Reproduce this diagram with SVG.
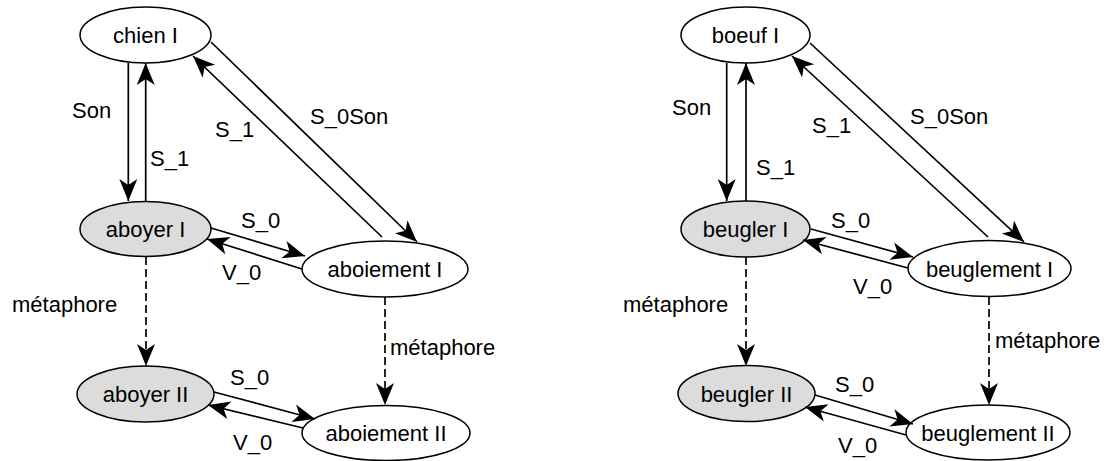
<svg xmlns="http://www.w3.org/2000/svg" width="1110" height="461" viewBox="0 0 1110 461">
<style>
text{font-family:"Liberation Sans",Arial,sans-serif;font-size:22px;fill:#000}
.n text{text-anchor:middle}
ellipse{stroke:#000;stroke-width:1.5;fill:#fff}
.g ellipse{fill:#dcdcdc}
.e path{fill:none;stroke:#000;stroke-width:1.7;marker-end:url(#ah)}
.e path.d{stroke-dasharray:8,4}
</style>
<defs>
<marker id="ah" markerUnits="userSpaceOnUse" markerWidth="24" markerHeight="20" refX="22" refY="10" orient="auto" overflow="visible">
<path d="M22,10 L0,1 L6,10 L0,19 Z" fill="#000" stroke="none"/>
</marker>
</defs>
<g class="n" id="chien1"><ellipse cx="145.5" cy="35" rx="65.5" ry="28"/><text x="145.5" y="43">chien I</text></g>
<g class="n g" id="aboyer1"><ellipse cx="145.5" cy="229" rx="65.5" ry="27.5"/><text x="145.5" y="237">aboyer I</text></g>
<g class="n" id="aboiement1"><ellipse cx="385" cy="269" rx="83" ry="28"/><text x="385" y="277">aboiement I</text></g>
<g class="n g" id="aboyer2"><ellipse cx="145.5" cy="394" rx="68.5" ry="28"/><text x="145.5" y="402">aboyer II</text></g>
<g class="n" id="aboiement2"><ellipse cx="386" cy="433" rx="84" ry="27.5"/><text x="386" y="441">aboiement II</text></g>
<g class="n" id="boeuf1"><ellipse cx="745.5" cy="35" rx="64.5" ry="28"/><text x="745.5" y="43">boeuf I</text></g>
<g class="n g" id="beugler1"><ellipse cx="745.5" cy="229" rx="64.5" ry="28"/><text x="745.5" y="237">beugler I</text></g>
<g class="n" id="beuglement1"><ellipse cx="989.5" cy="268.5" rx="81.5" ry="28"/><text x="989.5" y="276.5">beuglement I</text></g>
<g class="n g" id="beugler2"><ellipse cx="746.5" cy="393.5" rx="68.5" ry="28"/><text x="746.5" y="401.5">beugler II</text></g>
<g class="n" id="beuglement2"><ellipse cx="988" cy="432.5" rx="82" ry="27.5"/><text x="988" y="440.5">beuglement II</text></g>
<g class="e" id="connectors">
<path d="M128.3,63 L128.3,201"/>
<path d="M145.7,201 L145.7,63"/>
<path d="M382,237 L193,56"/>
<path d="M211,42 L417,242"/>
<path d="M211,228 L305,256"/>
<path d="M302,269 L207,239"/>
<path class="d" d="M146,257 L146,366"/>
<path class="d" d="M385,297 L385,405"/>
<path d="M214,392 L315,419"/>
<path d="M303,428 L208,405"/>
<path d="M726.7,63 L726.7,201"/>
<path d="M746,201 L746,63"/>
<path d="M988,237 L792,56"/>
<path d="M810,43 L1024,242"/>
<path d="M811,229 L913,257"/>
<path d="M908,268 L803,240"/>
<path class="d" d="M746,257 L746,366"/>
<path class="d" d="M989,297 L989,405"/>
<path d="M815,395 L913,424"/>
<path d="M906,435 L805,407"/>
</g>
<g id="labels">
<text x="72" y="118">Son</text>
<text x="150" y="166">S_1</text>
<text x="215" y="137">S_1</text>
<text x="310" y="124">S_0Son</text>
<text x="241" y="228">S_0</text>
<text x="222" y="280">V_0</text>
<text x="12" y="312">métaphore</text>
<text x="390" y="355">métaphore</text>
<text x="230" y="385">S_0</text>
<text x="233" y="450">V_0</text>
<text x="672" y="115">Son</text>
<text x="756" y="175">S_1</text>
<text x="812" y="133">S_1</text>
<text x="910" y="124">S_0Son</text>
<text x="831" y="228">S_0</text>
<text x="853" y="294">V_0</text>
<text x="623" y="312">métaphore</text>
<text x="995" y="348">métaphore</text>
<text x="835" y="392">S_0</text>
<text x="838" y="453">V_0</text>
</g>
</svg>
